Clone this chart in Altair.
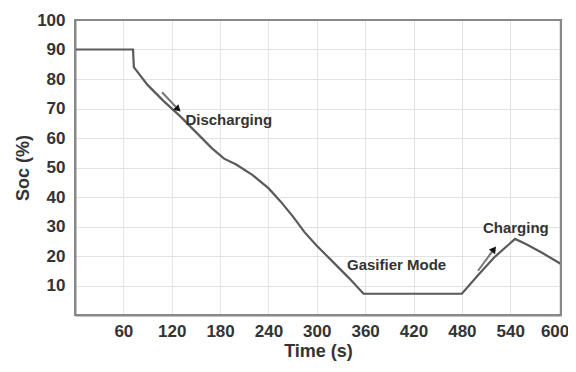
import altair as alt
import pandas as pd

time_s = [0, 72, 73, 90, 110, 130, 150, 170, 185, 200, 220, 240, 255, 270, 285, 300, 320, 340, 358, 480, 500, 520, 546, 560, 580, 603]
soc = [90, 90, 84, 78, 72.5, 67.5, 62, 56.5, 53, 51, 47.5, 43, 38.5, 33.5, 28, 23.5, 18, 12.5, 7.2, 7.2, 13.5, 19.5, 25.8, 24, 21, 17.3]

x_ticks = [60, 120, 180, 240, 300, 360, 420, 480, 540, 600]
y_ticks = [10, 20, 30, 40, 50, 60, 70, 80, 90, 100]

labels = ["Discharging", "Gasifier Mode", "Charging"]
label_t = [137, 399, 547]
label_v = [66, 17, 29.5]
label_align = ["left", "center", "center"]

arrow_id = ["d", "d", "c", "c"]
arrow_t = [108, 127, 500, 519]
arrow_v = [75.5, 70, 15, 22]
head_t = [127, 519]
head_v = [70, 22]
head_angle = [133, 37]

df = pd.DataFrame({"t": time_s, "v": soc})
df_arrow = pd.DataFrame({"id": arrow_id, "t": arrow_t, "v": arrow_v})
df_head = pd.DataFrame({"t": head_t, "v": head_v, "a": head_angle})
df_lab = pd.DataFrame({"txt": labels, "t": label_t, "v": label_v})

FONT = "Liberation Sans"
W, H = 486, 295
xs = alt.Scale(domain=[0, 603], nice=False, zero=False)
ys = alt.Scale(domain=[0, 100], nice=False)

line = alt.Chart(df).mark_line(color="#5a5a5a", strokeWidth=2.2).encode(
    x=alt.X("t:Q", scale=xs, title="Time (s)",
            axis=alt.Axis(values=x_ticks, tickCount=12, grid=True, gridColor="#e3e3e3", ticks=False,
                          labelPadding=8, labelFontSize=17, labelFontWeight="bold",
                          labelOverlap=False, labelFlush=False,
                          labelOffset=alt.ExprRef(expr="datum.value == 600 ? -4 : 0"),
                          labelFont=FONT, labelColor="#333333", titleFont=FONT, titleFontSize=18,
                          titleFontWeight="bold", titleColor="#333333", titlePadding=3,
                          domainColor="#888888", domainWidth=2)),
    y=alt.Y("v:Q", scale=ys, title="Soc (%)",
            axis=alt.Axis(values=y_ticks, tickCount=12, grid=True, gridColor="#e3e3e3", ticks=False,
                          labelPadding=10, labelFontSize=17, labelFontWeight="bold",
                          labelOverlap=False, labelFlush=False,
                          labelFont=FONT, labelColor="#333333", titleFont=FONT, titleFontSize=18,
                          titleFontWeight="bold", titleColor="#333333", titlePadding=4,
                          domainColor="#888888", domainWidth=2)),
    order="t:Q",
)

frame = alt.Chart(df.iloc[[0]]).mark_rect(fill=None, stroke="#888888", strokeWidth=2).encode(
    x=alt.value(0), x2=alt.value(W), y=alt.value(0), y2=alt.value(H)
)

arrows = alt.Chart(df_arrow).mark_line(color="#777777", strokeWidth=2).encode(
    x=alt.X("t:Q", scale=xs), y=alt.Y("v:Q", scale=ys), detail="id:N"
)
heads = alt.Chart(df_head).mark_point(shape="triangle", filled=True, color="#111111", size=60, opacity=1).encode(
    x=alt.X("t:Q", scale=xs), y=alt.Y("v:Q", scale=ys), angle=alt.Angle("a:Q", scale=None)
)

texts = []
for i in range(len(labels)):
    texts.append(
        alt.Chart(df_lab.iloc[[i]]).mark_text(
            font=FONT, fontSize=15, fontWeight="bold", align=label_align[i],
            baseline="middle", color="#333333"
        ).encode(x=alt.X("t:Q", scale=xs), y=alt.Y("v:Q", scale=ys), text="txt:N")
    )

chart = alt.layer(line, frame, arrows, heads, *texts).properties(
    width=W, height=H,
    autosize=alt.AutoSizeParams(type="none"),
    padding={"left": 67, "top": 12, "right": 7, "bottom": 49},
).configure_view(stroke=None).configure(background="white")

chart.save("out.html", embed_options={"renderer": "svg", "actions": False})
